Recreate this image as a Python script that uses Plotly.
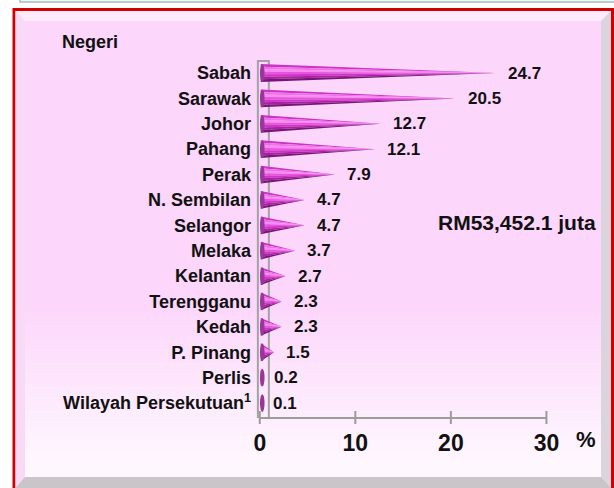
import plotly.graph_objects as go

# ---------------- data ----------------
states = ["Sabah", "Sarawak", "Johor", "Pahang", "Perak", "N. Sembilan", "Selangor",
          "Melaka", "Kelantan", "Terengganu", "Kedah", "P. Pinang", "Perlis",
          "Wilayah Persekutuan<sup>1</sup>"]
shares = [24.7, 20.5, 12.7, 12.1, 7.9, 4.7, 4.7, 3.7, 2.7, 2.3, 2.3, 1.5, 0.2, 0.1]
share_labels = ["24.7", "20.5", "12.7", "12.1", "7.9", "4.7", "4.7", "3.7", "2.7",
                "2.3", "2.3", "1.5", "0.2", "0.1"]
x_ticks = [0, 10, 20, 30]
total_text = "RM53,452.1 juta"
axis_title = "%"
cat_title = "Negeri"

# ---------------- layout geometry (pixels) ----------------
FW, FH = 614, 488
L, T = 255, 55
W, H = 301, 363
XR = [-0.5, 31]
YR = [13.59, -0.709]


def px_x(px):
    return (px - L) / W


def px_y(py):
    return 1 - (py - T) / H


FONT = "Arial, Liberation Sans, sans-serif"
fig = go.Figure()

# ---------------- cones (shaded strips) ----------------
strip_colors = ["#CC34C4", "#F070EA", "#F58CF0", "#EA52E0", "#D234C8", "#AA20A2", "#781678"]
half = 0.35
base_x = 0.1
n = len(strip_colors)
idx = list(range(len(states)))
for k, col in enumerate(strip_colors):
    xs, ys = [], []
    for i, v in zip(idx, shares):
        t0 = -half + 2 * half * k / n
        t1 = -half + 2 * half * (k + 1) / n
        xs += [base_x, base_x, v, base_x, None]
        ys += [i + t0, i + t1, i, i + t0, None]
    fig.add_trace(go.Scatter(x=xs, y=ys, mode="lines", fill="toself", fillcolor=col,
                             line=dict(width=0, color=col), hoverinfo="skip",
                             showlegend=False))

shapes = []

# ---------------- background frame ----------------
def rect(x0, y0, x1, y1, fill=None, line=None, lw=0, layer="below"):
    d = dict(type="rect", xref="paper", yref="paper",
             x0=px_x(x0), x1=px_x(x1), y0=px_y(y0), y1=px_y(y1), layer=layer,
             line=dict(width=lw, color=line or "rgba(0,0,0,0)"))
    if fill:
        d["fillcolor"] = fill
    return d


def poly(pts, fill, layer="below"):
    path = "M " + " L ".join(f"{px_x(a)},{px_y(b)}" for a, b in pts) + " Z"
    return dict(type="path", xref="paper", yref="paper", path=path, fillcolor=fill,
                line=dict(width=0), layer=layer)


# box above (only its bottom edge visible)
shapes.append(rect(20, -20, 640, 2, fill="#F3F6F7", line="#A9BCC4", lw=1.5))
# red outer frame
shapes.append(rect(14, 9.5, 640, 500, fill="#F7E0F5", line="#D40000", lw=3))
# bevel pieces
ox0, oy0, ox1, oy1 = 15.5, 11, 611, 488
ix0, iy0, ix1, iy1 = 25, 21, 601, 477
shapes.append(poly([(ox0, oy0), (ox1, oy0), (ix1, iy0), (ix0, iy0)], "#FCEBFB"))
shapes.append(poly([(ox0, oy0), (ix0, iy0), (ix0, iy1), (ox0, oy1)], "#F8DAF6"))
shapes.append(poly([(ox1, oy0), (ox1, oy1), (ix1, iy1), (ix1, iy0)], "#DCD4DC"))
shapes.append(poly([(ox0, oy1), (ix0, iy1), (ix1, iy1), (ox1, oy1)], "#C9C5C9"))
shapes.append(rect(611, 9.5, 614, 488, fill="#D40000"))
# inner gradient face
top_c = (252, 214, 251)
bot_c = (254, 248, 254)
g0, g1 = 300, 470
shapes.append(rect(ix0, iy0, ix1, g0 + 1, fill="rgb(%d,%d,%d)" % top_c))
steps = 28
for s in range(steps):
    a = s / (steps - 1)
    c = tuple(round(top_c[j] + (bot_c[j] - top_c[j]) * a) for j in range(3))
    y0 = g0 + (g1 - g0) * s / steps
    y1 = g0 + (g1 - g0) * (s + 1) / steps + 1
    shapes.append(rect(ix0, y0, ix1, y1, fill="rgb(%d,%d,%d)" % c))
shapes.append(rect(ix0, g1, ix1, iy1, fill="rgb(%d,%d,%d)" % bot_c))

# ---------------- wall, axis line, ticks ----------------
shapes.append(dict(type="rect", xref="x", yref="y", x0=-0.2, x1=0.95, y0=-0.47, y1=YR[0],
                   line=dict(color="#A3A3A3", width=2), layer="below"))
shapes.append(dict(type="line", xref="x", yref="paper", x0=x_ticks[0], x1=x_ticks[-1],
                   y0=px_y(418), y1=px_y(418), line=dict(color="#9C9C9C", width=2)))
for tv in x_ticks:
    shapes.append(dict(type="line", xref="x", yref="paper", x0=tv, x1=tv,
                       y0=px_y(411), y1=px_y(424), line=dict(color="#9C9C9C", width=2)))

# ---------------- cone base ellipses ----------------
for i in idx:
    shapes.append(dict(type="circle", xref="x", yref="y", x0=0.02, x1=0.5,
                       y0=i - half, y1=i + half, fillcolor="#98369A",
                       line=dict(width=0), layer="above"))

# ---------------- annotations ----------------
ann = []
for i, (v, t) in enumerate(zip(shares, share_labels)):
    ann.append(dict(x=v, y=i, xref="x", yref="y", text=t, showarrow=False,
                    xanchor="left", yanchor="middle", xshift=10,
                    font=dict(family=FONT, size=17, color="#111111", weight="bold")))
ann.append(dict(x=px_x(517), y=px_y(222), xref="paper", yref="paper", text=total_text,
                showarrow=False, xanchor="center", yanchor="middle",
                font=dict(family=FONT, size=21, color="#111111", weight="bold")))
ann.append(dict(x=px_x(60), y=px_y(42), xref="paper", yref="paper", text=cat_title,
                showarrow=False, xanchor="left", yanchor="middle",
                font=dict(family=FONT, size=18, color="#111111", weight="bold")))
ann.append(dict(x=px_x(586), y=px_y(439), xref="paper", yref="paper", text=axis_title,
                showarrow=False, xanchor="center", yanchor="middle",
                font=dict(family=FONT, size=22, color="#111111", weight="bold")))

fig.update_layout(
    width=FW, height=FH, autosize=False,
    margin=dict(l=L, r=FW - L - W, t=T, b=FH - T - H, pad=0),
    paper_bgcolor="white", plot_bgcolor="rgba(0,0,0,0)",
    shapes=shapes, annotations=ann, showlegend=False,
    xaxis=dict(range=XR, tickvals=x_ticks, ticktext=[str(t) for t in x_ticks],
               showgrid=False, zeroline=False, showline=False, ticks="",
               ticklabelstandoff=9,
               tickfont=dict(family=FONT, size=23, color="#111111", weight="bold"),
               fixedrange=True),
    yaxis=dict(range=YR, tickvals=idx, ticktext=states, showgrid=False, zeroline=False,
               showline=False, ticks="", ticklabelstandoff=3,
               tickfont=dict(family=FONT, size=18, color="#111111", weight="bold"),
               fixedrange=True),
)

fig.write_html("out.html", config={"displayModeBar": False},
               post_script="document.body.style.margin='0';document.body.style.overflow='hidden';")
